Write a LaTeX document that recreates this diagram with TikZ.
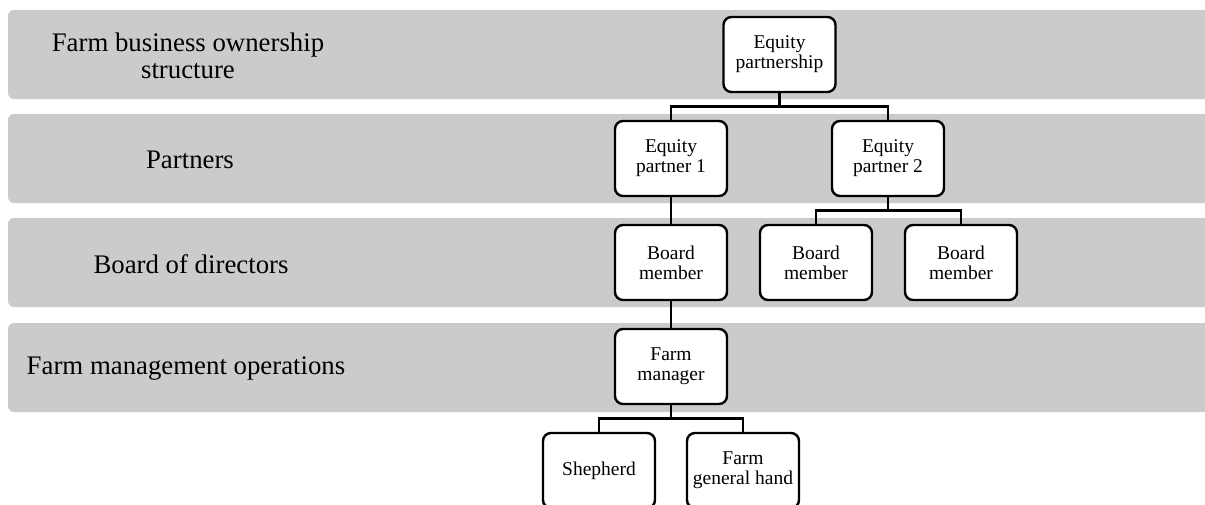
\documentclass[tikz,border=0pt]{standalone}
\usepackage{fontspec}
\setmainfont{Liberation Serif}
\begin{document}
\begin{tikzpicture}[x=1pt,y=-1pt,
  band/.style={fill=bandgray,draw=none,rounded corners=6pt},
  bandlabel/.style={align=center,font=\fontsize{26.8}{27}\selectfont,inner sep=0pt},
  orgbox/.style={draw=black,line width=2.4pt,fill=white,rounded corners=8pt,
    minimum width=112pt,minimum height=75pt,align=center,inner sep=2pt,
    font=\fontsize{19.5}{20}\selectfont},
  link/.style={draw=black,line width=2.2pt}]
\definecolor{bandgray}{HTML}{CBCBCB}
\useasboundingbox (0,0) rectangle (1205,504);
\clip (0,0) rectangle (1205,504);

% level bands
\fill[band] (8,10) rectangle (1230,99);
\fill[band] (8,114) rectangle (1230,203);
\fill[band] (8,218) rectangle (1230,307);
\fill[band] (8,323) rectangle (1230,412);

% level labels
\node[bandlabel] (l1) at (188,56) {Farm business ownership\\structure};
\node[bandlabel] (l2) at (190,160) {Partners};
\node[bandlabel] (l3) at (191,264) {Board of directors};
\node[bandlabel] (l4) at (186,369) {Farm management operations};

% connectors
\draw[link] (779.5,92) -- (779.5,106.5);
\draw[link] (671,121) |- (779.5,106.5) -| (888,121);
\draw[link] (671,196) -- (671,225);
\draw[link] (888,196) -- (888,210.5);
\draw[link] (816,225) |- (888,210.5) -| (961,225);
\draw[link] (671,300) -- (671,329);
\draw[link] (671,404) -- (671,418.5);
\draw[link] (599,433) |- (671,418.5) -| (743,433);

% organisation boxes
\node[orgbox] (ep) at (779.5,54.5) {Equity\\partnership};
\node[orgbox] (p1) at (671,158.5) {Equity\\partner 1};
\node[orgbox] (p2) at (888,158.5) {Equity\\partner 2};
\node[orgbox] (b1) at (671,262.5) {Board\\member};
\node[orgbox] (b2) at (816,262.5) {Board\\member};
\node[orgbox] (b3) at (961,262.5) {Board\\member};
\node[orgbox] (fm) at (671,366.5) {Farm\\manager};
\node[orgbox] (sh) at (599,470.5) {Shepherd};
\node[orgbox] (gh) at (743,470.5) {Farm\\general hand};
\end{tikzpicture}
\end{document}
